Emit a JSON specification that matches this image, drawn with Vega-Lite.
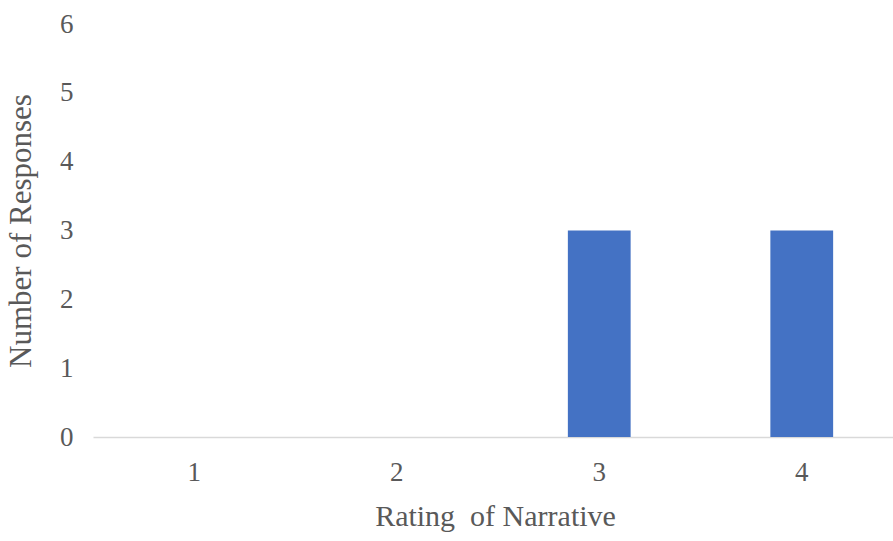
{
  "$schema": "https://vega.github.io/schema/vega-lite/v6.json",
  "width": 810,
  "height": 413,
  "autosize": {"type": "none"},
  "padding": {"left": 93, "top": 24, "right": -10, "bottom": 104},
  "background": "white",
  "config": {
    "view": {"stroke": null},
    "font": "Liberation Serif"
  },
  "data": {
    "values": [
      {"rating": "1", "responses": 0},
      {"rating": "2", "responses": 0},
      {"rating": "3", "responses": 3},
      {"rating": "4", "responses": 3}
    ]
  },
  "mark": {"type": "bar", "color": "#4472c4"},
  "encoding": {
    "x": {
      "field": "rating",
      "type": "nominal",
      "sort": null,
      "scale": {"paddingInner": 0.69, "paddingOuter": 0.345},
      "axis": {
        "title": "Rating\u00a0 of Narrative",
        "titleFont": "Liberation Serif",
        "titleFontSize": 30,
        "titleFontWeight": "normal",
        "titleColor": "#595959",
        "titlePadding": 16,
        "titleX": 402,
        "labelAngle": 0,
        "labelFont": "Liberation Serif",
        "labelFontSize": 27,
        "labelColor": "#595959",
        "labelPadding": 22,
        "ticks": false,
        "domainColor": "#d9d9d9",
        "domainWidth": 1.5
      }
    },
    "y": {
      "field": "responses",
      "type": "quantitative",
      "scale": {"domain": [0, 6], "nice": false},
      "axis": {
        "title": "Number of Responses",
        "titleFont": "Liberation Serif",
        "titleFontSize": 31,
        "titleFontWeight": "normal",
        "titleColor": "#595959",
        "titlePadding": 22,
        "values": [0, 1, 2, 3, 4, 5, 6],
        "labelFont": "Liberation Serif",
        "labelFontSize": 27,
        "labelColor": "#595959",
        "labelPadding": 20,
        "ticks": false,
        "domain": false,
        "grid": false
      }
    }
  }
}
